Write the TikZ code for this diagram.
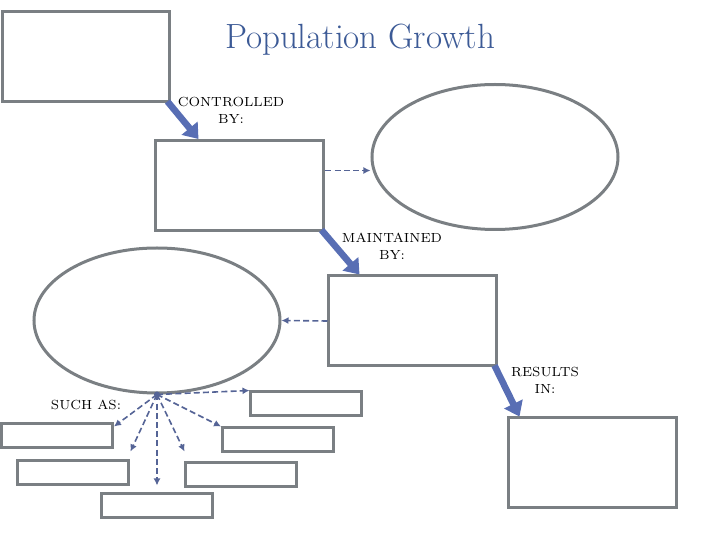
\documentclass[tikz,border=0pt]{standalone}
\usetikzlibrary{arrows.meta,shapes.geometric}
\definecolor{boxgray}{RGB}{122,127,131}
\definecolor{arrowblue}{RGB}{88,110,180}
\definecolor{dashblue}{RGB}{85,100,150}
\definecolor{titleblue}{RGB}{60,90,150}
\begin{document}
\begin{tikzpicture}[x=0.5pt,y=-0.5pt,
  box/.style={draw=boxgray, line width=1.5pt, inner sep=0pt},
  bigbox/.style={box, minimum width=84pt, minimum height=45pt},
  smallbox/.style={box, minimum width=55.5pt, minimum height=12pt},
  oval/.style={box, ellipse, minimum width=123pt, minimum height=72.5pt},
  label/.style={font=\fontsize{6.6}{8.5}\selectfont, align=center, inner sep=0pt},
  bigarrow/.style={draw=arrowblue, line width=3.3pt, -{Triangle[length=7pt, width=10pt]}},
  dasharrow/.style={draw=dashblue, line width=0.8pt, dash pattern=on 3pt off 1.6pt, -{Latex[length=3.5pt, width=3.5pt]}}]
  \useasboundingbox (0,0) rectangle (720,540);
  \node[text=titleblue, font=\fontsize{17.5}{20}\selectfont] (title) at (360,40) {Population Growth};
  % main chain
  \node[bigbox] (top) at (86,57) {};
  \node[bigbox] (ctrl) at (240,185.5) {};
  \node[oval] (factor) at (495,157) {};
  \node[bigbox] (maint) at (413,321) {};
  \node[oval] (limit) at (157,320.5) {};
  \node[bigbox] (result) at (593,463) {};
  % examples
  \node[smallbox] (ex1) at (306.5,404) {};
  \node[smallbox] (ex2) at (57,436) {};
  \node[smallbox] (ex3) at (278,440) {};
  \node[smallbox] (ex4) at (73.5,473) {};
  \node[smallbox] (ex5) at (241.5,475) {};
  \node[smallbox] (ex6) at (157,506) {};
  % labels
  \node[label] (controlled) at (231,110) {CONTROLLED\\BY:};
  \node[label] (maintained) at (392,246) {MAINTAINED\\BY:};
  \node[label] (results) at (545,380) {RESULTS\\IN:};
  \node[label] (suchas) at (86,405) {SUCH AS:};
  % arrows
  \draw[bigarrow] ([xshift=-2pt,yshift=1pt]top.south east) -- ([xshift=22pt]ctrl.north west);
  \draw[bigarrow] ([xshift=-2pt,yshift=1pt]ctrl.south east) -- ([xshift=16pt]maint.north west);
  \draw[bigarrow] ([xshift=-2pt,yshift=1pt]maint.south east) -- ([xshift=6pt]result.north west);
  \draw[dasharrow] ([yshift=7.5pt]ctrl.east) -- ([yshift=7.5pt]ctrl.east -| factor.west);
  \draw[dasharrow] (maint.west) -- (limit.east);
  \coordinate (hub) at (limit.south);
  \fill[dashblue] (hub) circle (1.5pt);
  \draw[dasharrow] (hub) -- (ex1.north west);
  \draw[dasharrow] (hub) -- ([yshift=-2pt]ex2.north east);
  \draw[dasharrow] (hub) -- ([yshift=4pt]ex4.north east);
  \draw[dasharrow] (hub) -- ([yshift=3.5pt]ex6.north);
  \draw[dasharrow] (hub) -- ([yshift=5pt]ex5.north west);
  \draw[dasharrow] (hub) -- (ex3.north west);
\end{tikzpicture}
\end{document}
